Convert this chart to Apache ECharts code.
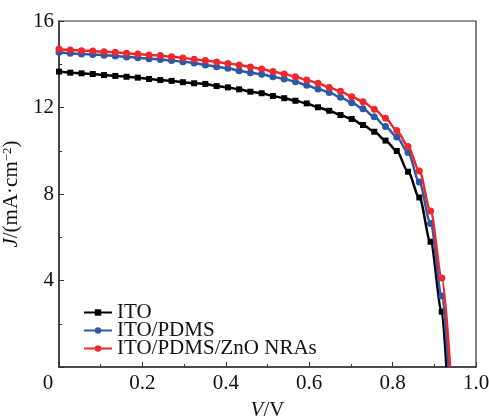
<!DOCTYPE html>
<html>
<head>
<meta charset="utf-8">
<script src="https://cdn.jsdelivr.net/npm/echarts@6/dist/echarts.min.js"></script>
<style>
html, body { margin: 0; padding: 0; background: #fff; }
#main { width: 489px; height: 417px; }
</style>
</head>
<body>
<div id="main"></div>
<script>
// J-V curves, values
const voltage = [0, 0.027, 0.054, 0.081, 0.108, 0.135, 0.162, 0.189, 0.216, 0.243,
    0.270, 0.297, 0.324, 0.351, 0.378, 0.405, 0.432, 0.459, 0.486, 0.513,
    0.540, 0.567, 0.594, 0.621, 0.648, 0.675, 0.702, 0.729, 0.756, 0.783,
    0.810, 0.837, 0.864, 0.891, 0.918];
const jIto = [13.66, 13.61, 13.58, 13.55, 13.50, 13.46, 13.42, 13.38, 13.32, 13.27,
    13.23, 13.17, 13.12, 13.09, 12.99, 12.93, 12.84, 12.73, 12.66, 12.53,
    12.43, 12.31, 12.19, 12.01, 11.85, 11.65, 11.47, 11.19, 10.88, 10.47,
    9.99, 9.03, 7.84, 5.79, 2.56];
const jPdms = [14.55, 14.51, 14.47, 14.45, 14.42, 14.38, 14.34, 14.30, 14.26, 14.22,
    14.17, 14.12, 14.06, 13.97, 13.89, 13.81, 13.70, 13.61, 13.54, 13.42,
    13.32, 13.19, 13.03, 12.86, 12.69, 12.47, 12.22, 11.94, 11.57, 11.12,
    10.64, 9.92, 8.55, 6.64, 3.28];
const jZno = [14.70, 14.66, 14.63, 14.61, 14.58, 14.55, 14.51, 14.47, 14.43, 14.40,
    14.35, 14.29, 14.23, 14.17, 14.10, 14.04, 13.97, 13.87, 13.78, 13.66,
    13.55, 13.42, 13.27, 13.12, 12.93, 12.75, 12.50, 12.27, 11.92, 11.50,
    10.94, 10.20, 9.06, 7.21, 4.12];
// open-circuit voltages (J = 0)
const vocIto = 0.929;
const vocPdms = 0.934;
const vocZno = 0.938;

const names = ['ITO', 'ITO/PDMS', 'ITO/PDMS/ZnO NRAs'];
const colors = ['#000000', '#2a5ba8', '#ec2a2e'];
const symbols = ['rect', 'circle', 'circle'];
const sizes = [6, 7, 7];

const FONT = '"Liberation Serif", "Times New Roman", serif';
const FS = 21;

function buildData(js, voc) {
    const d = voltage.map((v, i) => [v, js[i]]);
    d.push({ value: [voc, 0], symbol: 'none' });
    return d;
}

const chart = echarts.init(document.getElementById('main'));

const series = [jIto, jPdms, jZno].map((js, k) => ({
    name: names[k],
    type: 'line',
    data: buildData(js, [vocIto, vocPdms, vocZno][k]),
    smooth: 0.3,
    smoothMonotone: 'x',
    symbol: symbols[k],
    symbolSize: sizes[k],
    showAllSymbol: true,
    color: colors[k],
    lineStyle: { width: 2.5, color: colors[k] },
    itemStyle: { color: colors[k] },
    z: 2 + k
}));

chart.setOption({
    animation: false,
    grid: {
        left: 59, right: 13, top: 21, bottom: 50,
        outerBoundsMode: 'none',
        show: true, borderColor: '#333', borderWidth: 1.2
    },
    legend: {
        orient: 'vertical',
        left: 78, top: 297,
        itemWidth: 28, itemHeight: 8,
        itemGap: -3, itemTextGap: 6,
        textStyle: { fontFamily: FONT, fontSize: FS, color: '#111', lineHeight: 20 },
        data: names
    },
    xAxis: {
        type: 'value',
        min: 0, max: 1, interval: 0.2,
        name: '{i|V}/V',
        nameLocation: 'middle',
        nameGap: 33,
        nameTextStyle: {
            fontFamily: FONT, fontSize: FS, color: '#111',
            rich: { i: { fontFamily: FONT, fontSize: FS, fontStyle: 'italic', color: '#111' } }
        },
        axisLine: { lineStyle: { color: '#333', width: 1.5 } },
        axisTick: { inside: true, length: 5, lineStyle: { color: '#333' } },
        minorTick: { show: true, splitNumber: 2, length: 3, lineStyle: { color: '#333' } },
        splitLine: { show: false },
        axisLabel: {
            margin: 6,
            fontFamily: FONT, fontSize: FS, color: '#111',
            formatter: v => v === 0 ? '{z|0}' : v.toFixed(1),
            rich: { z: { fontFamily: FONT, fontSize: FS, color: '#111', padding: [0, 22, 0, 0] } }
        }
    },
    yAxis: {
        type: 'value',
        min: 0, max: 16, interval: 4,
        name: '{i|J}/(mA·cm{s|−2})',
        nameLocation: 'middle',
        nameGap: 28,
        nameTextStyle: {
            fontFamily: FONT, fontSize: FS, color: '#111',
            rich: {
                i: { fontFamily: FONT, fontSize: FS, fontStyle: 'italic', color: '#111' },
                s: { fontFamily: FONT, fontSize: 13, color: '#111', verticalAlign: 'top', padding: [0, 0, 8, 0] }
            }
        },
        axisLine: { lineStyle: { color: '#333', width: 1.5 } },
        axisTick: { inside: true, length: 5, lineStyle: { color: '#333' } },
        minorTick: { show: true, splitNumber: 2, length: 3, lineStyle: { color: '#333' } },
        splitLine: { show: false },
        axisLabel: {
            margin: 5,
            showMinLabel: false,
            fontFamily: FONT, fontSize: FS, color: '#111'
        }
    },
    series: series
});
</script>
</body>
</html>
